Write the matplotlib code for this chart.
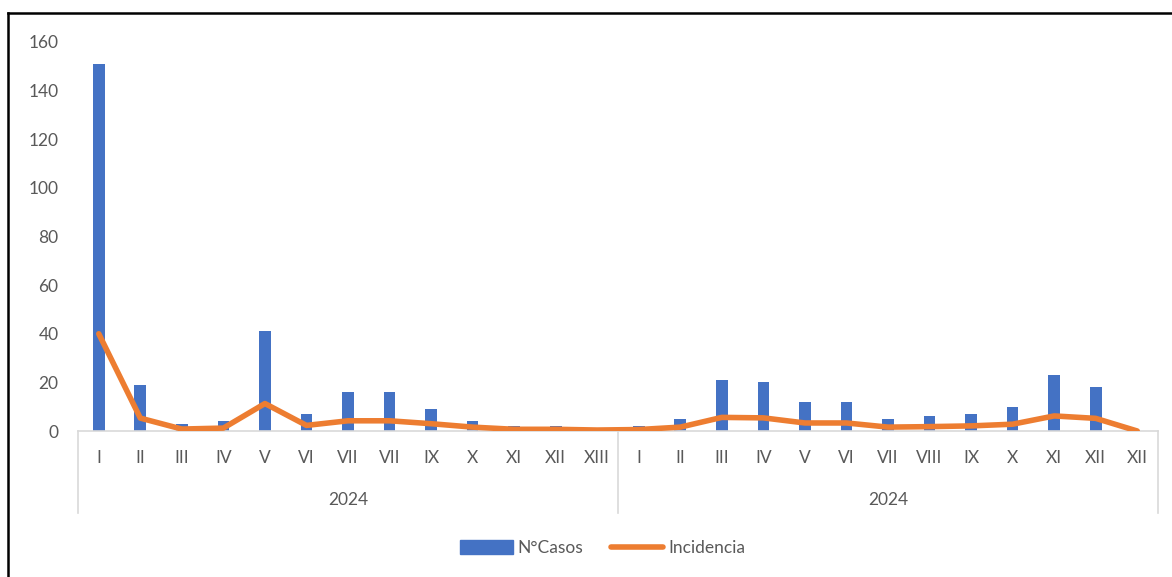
import matplotlib.pyplot as plt
from matplotlib.lines import Line2D
from matplotlib.patches import Patch

# Periods (two blocks, both labelled 2024)
periodos_1 = ['I', 'II', 'III', 'IV', 'V', 'VI', 'VII', 'VII', 'IX', 'X', 'XI', 'XII', 'XIII']
periodos_2 = ['I', 'II', 'III', 'IV', 'V', 'VI', 'VII', 'VIII', 'IX', 'X', 'XI', 'XII', 'XII']
anios = ['2024', '2024']

casos = [151, 19, 3, 4, 41, 7, 16, 16, 9, 4, 2, 2, 0,
         2, 5, 21, 20, 12, 12, 5, 6, 7, 10, 23, 18, 0]
incidencia = [40, 5.3, 0.8, 1.2, 11.3, 2.3, 4.2, 4.2, 3.0, 1.6, 0.7, 0.7, 0.4,
              0.6, 1.6, 5.6, 5.4, 3.3, 3.3, 1.6, 1.8, 2.1, 2.8, 6.2, 5.2, 0]

etiquetas = periodos_1 + periodos_2
casos = casos[:len(etiquetas)]
incidencia = incidencia[:len(etiquetas)]

plt.rcParams['font.family'] = ['Lato', 'DejaVu Sans']
gris = '#595959'
fs = 12.5
W, H = 1172, 577

fig = plt.figure(figsize=(W / 100, H / 100), dpi=100)
ax = fig.add_axes([78 / W, (H - 431) / H, 1080 / W, 389 / H])

x = list(range(len(etiquetas)))
ax.bar(x, casos, width=0.28, color='#4472C4', zorder=2)
ax.plot(x, incidencia, color='#ED7D31', lw=4, solid_capstyle='round',
        solid_joinstyle='round', zorder=3)

ax.set_xlim(-0.5, len(etiquetas) - 0.5)
ax.set_ylim(0, 160)
ax.set_yticks(range(0, 161, 20))
ax.set_xticks(x)
ax.set_xticklabels(etiquetas)
ax.tick_params(axis='both', length=0, labelsize=fs, labelcolor=gris)
ax.tick_params(axis='x', pad=14)
ax.tick_params(axis='y', pad=14)

for s in ['top', 'right', 'left']:
    ax.spines[s].set_visible(False)
ax.spines['bottom'].set_color('#d9d9d9')
ax.spines['bottom'].set_linewidth(1.2)

# group separators and year labels below the axis
n1 = len(periodos_1)
bajo = -(513 - 431) / 389
for xs in [-0.5, n1 - 0.5, len(etiquetas) - 0.5]:
    ax.plot([xs, xs], [0, bajo], transform=ax.get_xaxis_transform(),
            color='#d9d9d9', lw=1.2, clip_on=False)
centros = [(n1 - 1) / 2, n1 + (len(periodos_2) - 1) / 2]
for cx, anio in zip(centros, anios):
    ax.text(cx, -(500 - 431) / 389, anio, transform=ax.get_xaxis_transform(),
            ha='center', va='center', fontsize=fs, color=gris)

handles = [Patch(color='#4472C4'),
           Line2D([0], [0], color='#ED7D31', lw=4, solid_capstyle='round')]
fig.legend(handles, ['N°Casos', 'Incidencia'], loc='center',
           bbox_to_anchor=(603 / W, 1 - 548 / H), ncol=2, frameon=False,
           fontsize=fs, labelcolor=gris, handlelength=3.0, handleheight=0.8,
           handletextpad=0.3, columnspacing=1.6)

# outer frame (top and left edges)
fig.add_artist(Line2D([8 / W, 8 / W], [0, 1 - 13 / H], color='black', lw=1.8,
                      transform=fig.transFigure))
fig.add_artist(Line2D([8 / W, 1], [1 - 13 / H, 1 - 13 / H], color='black', lw=1.8,
                      transform=fig.transFigure))

fig.savefig('out.png', dpi=100)
